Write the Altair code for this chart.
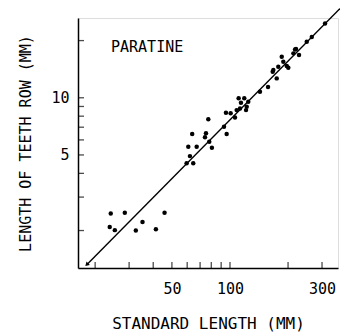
import altair as alt
import pandas as pd

# Scatter points (standard length mm, teeth-row length mm)
sl = [24.1, 23.8, 25.3, 28.5, 32.5, 35.2, 41.3, 45.8,
      60.8, 67.2, 63.7, 62.0, 59.6, 64.5, 74.2, 75.1, 77.2, 78.1, 80.6,
      93.1, 95.3, 96.1, 100.8, 106.2, 108.3, 110.9, 112.7, 118.6, 121.1, 122.1, 124.4, 114.0,
      143.0, 157.5,
      167.8, 174.7, 166.5, 178.0, 185.5, 189.0, 196.9, 200.6, 213.1, 217.4, 219.9, 227.9,
      250.0, 265.5, 311.0]
tr = [2.46, 2.09, 2.01, 2.48, 2.00, 2.22, 2.03, 2.48,
      5.52, 5.52, 6.44, 4.93, 4.52, 4.52, 6.19, 6.50, 7.70, 5.87, 5.45,
      7.04, 8.34, 6.44, 8.28, 7.88, 8.61, 9.93, 8.79, 9.93, 8.61, 8.97, 9.53, 9.41,
      10.75, 11.4,
      13.99, 12.65, 13.7, 14.56, 16.44, 15.47, 14.68, 14.38, 17.13, 17.97, 18.04, 16.78,
      19.7, 20.9, 24.6]

# Fitted line end points
line_x = [18.2, 372.0]
line_y = [1.33, 29.5]

x_ticks = [20, 30, 40, 50, 60, 70, 80, 90, 100, 200, 300]
y_ticks = [2, 3, 4, 5, 6, 7, 8, 9, 10, 20]
x_labels = [50, 100, 300]
y_labels = [5, 10]

FONT = "DejaVu Sans Mono"

pts = pd.DataFrame({"sl": sl, "tr": tr})
ln = pd.DataFrame({"sl": line_x, "tr": line_y})
xt = pd.DataFrame({"v": x_ticks})
yt = pd.DataFrame({"v": y_ticks})
arrow = pd.DataFrame({"sl": [line_x[0]], "tr": [line_y[0]]})

xs = alt.Scale(type="log", domain=[16.3, 363], nice=False)
ys = alt.Scale(type="log", domain=[1.27, 26.3], nice=False)

xaxis = alt.Axis(values=x_labels, ticks=False, grid=False, domainColor="black",
                 domainWidth=1.5, labelFont=FONT, labelFontSize=15, labelColor="black",
                 labelPadding=13, title="STANDARD LENGTH (MM)", titleFont=FONT,
                 titleFontSize=16, titleFontWeight="normal", titleColor="black",
                 titlePadding=19)
yaxis = alt.Axis(values=y_labels, ticks=False, grid=False, domainColor="black",
                 domainWidth=1.5, labelFont=FONT, labelFontSize=15, labelColor="black",
                 labelPadding=9, title="LENGTH OF TEETH ROW (MM)", titleFont=FONT,
                 titleFontSize=15, titleFontWeight="normal", titleColor="black",
                 titlePadding=17)

points = alt.Chart(pts).mark_circle(color="black", opacity=1, size=20).encode(
    x=alt.X("sl:Q", scale=xs, axis=xaxis),
    y=alt.Y("tr:Q", scale=ys, axis=yaxis),
)

line = alt.Chart(ln).mark_line(color="black", strokeWidth=1.4, clip=False).encode(
    x=alt.X("sl:Q", scale=xs),
    y=alt.Y("tr:Q", scale=ys),
)

head = alt.Chart(arrow).mark_point(shape="triangle", filled=True, color="black",
                                   opacity=1, size=22, angle=225).encode(
    x=alt.X("sl:Q", scale=xs),
    y=alt.Y("tr:Q", scale=ys),
)

xtick = alt.Chart(xt).mark_tick(color="black", thickness=1.3, size=6, orient="vertical").encode(
    x=alt.X("v:Q", scale=xs),
    y=alt.value(247),
)

ytick = alt.Chart(yt).mark_tick(color="black", thickness=1.3, size=6, orient="horizontal").encode(
    y=alt.Y("v:Q", scale=ys),
    x=alt.value(3),
)

label = alt.Chart(pd.DataFrame({"t": ["PARATINE"]})).mark_text(
    font=FONT, fontSize=15, color="black", align="left", baseline="middle"
).encode(text="t:N", x=alt.value(33), y=alt.value(29))

chart = alt.layer(xtick, ytick, line, head, points, label).properties(
    width=260, height=250,
    autosize=alt.AutoSizeParams(type="none"),
    padding={"left": 78, "top": 18, "right": 2, "bottom": 65},
).configure_view(stroke=None).configure(background="white")

chart.save("out.html", embed_options={"renderer": "svg", "actions": False})
